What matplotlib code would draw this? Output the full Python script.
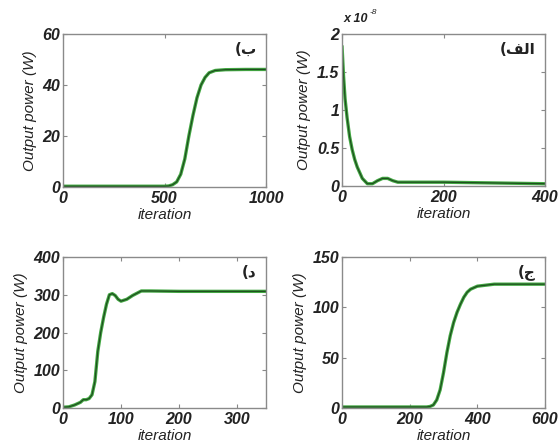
import matplotlib
matplotlib.use("Agg")
import matplotlib.pyplot as plt
from matplotlib.ticker import FuncFormatter

plt.rcParams["font.family"] = ["Liberation Sans", "DejaVu Sans"]

# --- datos ---
# (ب) arriba a la izquierda
x_b = [0, 300, 500, 520, 540, 560, 580, 600, 620, 640, 660, 680, 700, 720, 750, 800, 900, 1000]
y_b = [0.3, 0.3, 0.3, 0.4, 0.9, 2.0, 5.0, 11.0, 20.0, 28.0, 35.0, 40.0, 43.0, 44.8, 45.7, 46.0, 46.1, 46.1]

# (الف) arriba a la derecha, en unidades de 1e-8 W
x_alef = [0, 3, 6, 10, 15, 20, 25, 30, 40, 50, 60, 70, 80, 90, 100, 110, 150, 200, 300, 400]
y_alef = [1.85, 1.45, 1.15, 0.9, 0.65, 0.48, 0.35, 0.25, 0.1, 0.03, 0.03, 0.07, 0.1, 0.1, 0.07, 0.05, 0.05, 0.05, 0.04, 0.03]

# (د) abajo a la izquierda
x_d = [0, 10, 20, 30, 35, 40, 45, 50, 55, 60, 65, 70, 75, 80, 85, 90, 95, 100, 110, 120, 130, 135, 150, 200, 350]
y_d = [2, 3, 8, 15, 22, 22, 25, 35, 70, 150, 200, 240, 275, 300, 303, 298, 288, 283, 288, 298, 306, 310, 310, 309, 309]

# (ج) abajo a la derecha
x_j = [0, 250, 260, 270, 280, 290, 300, 310, 320, 330, 340, 350, 360, 370, 380, 400, 450, 600]
y_j = [1, 1, 1.5, 3, 8, 18, 35, 55, 72, 85, 95, 103, 110, 115, 118, 121, 123, 123]

# etiquetas (formas de presentación en orden visual)
lab_b = "(\uFE8F"
lab_alef = "(\uFED2\uFEDF\uFE8D"
lab_d = "(\uFEA9"
lab_j = "(\uFE9D"

paneles = [
    # x, y, xlim, xticks, ylim, yticks, etiqueta, rect en pixeles
    (x_b, y_b, 1000, [0, 500, 1000], 60, [0, 20, 40, 60], lab_b, [63, 34, 266, 187]),
    (x_alef, y_alef, 400, [0, 200, 400], 2, [0, 0.5, 1, 1.5, 2], lab_alef, [342, 34, 545, 186]),
    (x_d, y_d, 350, [0, 100, 200, 300], 400, [0, 100, 200, 300, 400], lab_d, [63, 257, 266, 408]),
    (x_j, y_j, 600, [0, 200, 400, 600], 150, [0, 50, 100, 150], lab_j, [342, 257, 545, 408]),
]

W, H = 559, 448
fig = plt.figure(figsize=(W / 100, H / 100), dpi=100)

def fmt(v, pos):
    return "%g" % v

for x, y, xmax, xt, ymax, yt, lab, (l, t, r, b) in paneles:
    ax = fig.add_axes([l / W, 1 - b / H, (r - l) / W, (b - t) / H])
    ax.plot(x, y, color="#43a843", lw=2.4, solid_capstyle="butt")
    ax.plot(x, y, color="#1f4f1f", lw=0.9)
    ax.set_xlim(0, xmax)
    ax.set_ylim(0, ymax)
    ax.set_xticks(xt)
    ax.set_yticks(yt)
    ax.xaxis.set_major_formatter(FuncFormatter(fmt))
    ax.yaxis.set_major_formatter(FuncFormatter(fmt))
    ax.tick_params(direction="in", length=3, width=0.8, top=True, right=True,
                   colors="#888888", labelcolor="#222222", labelsize=11.5)
    ax.tick_params(axis="x", pad=3)
    ax.tick_params(axis="y", pad=2)
    for lbl in ax.get_xticklabels() + ax.get_yticklabels():
        lbl.set_fontweight("bold")
        lbl.set_fontstyle("italic")
    for sp in ax.spines.values():
        sp.set_color("#8a8a8a")
        sp.set_linewidth(1.0)
    ax.set_ylabel("Output power (W)", fontsize=11, fontstyle="italic", labelpad=4, color="#222222")
    ax.set_xlabel("iteration", fontsize=11, fontstyle="italic", labelpad=1, color="#222222")
    ax.text(0.955, 0.90, lab, transform=ax.transAxes, ha="right", va="center",
            fontsize=11, fontweight="bold", family=["DejaVu Sans"], color="#222222")
    if ymax == 2:
        # factor de escala del eje y
        ax.text(0.01, 1.06, "x 10", transform=ax.transAxes, ha="left", va="bottom",
                fontsize=9, fontweight="bold", fontstyle="italic", color="#222222")
        ax.text(0.135, 1.12, "-8", transform=ax.transAxes, ha="left", va="bottom",
                fontsize=6, fontstyle="italic", color="#222222")

fig.savefig("out.png", dpi=100, facecolor="white")
